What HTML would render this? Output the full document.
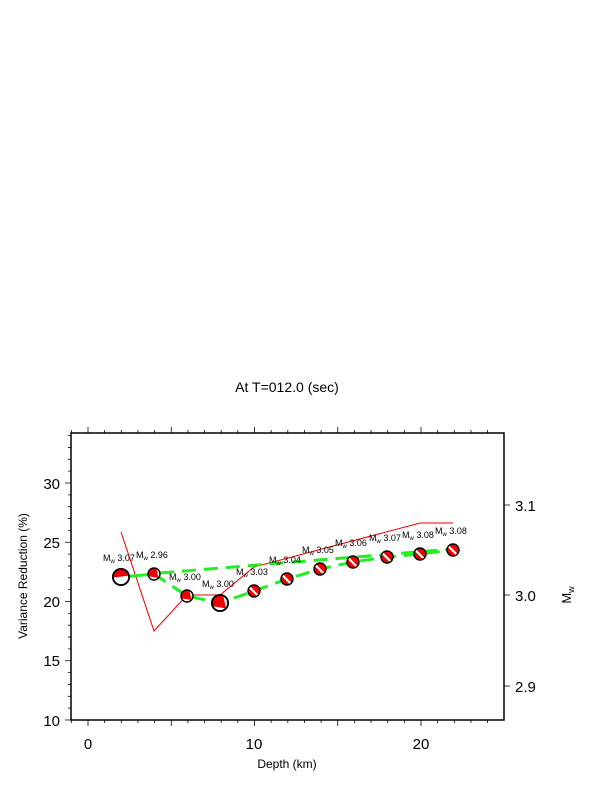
<!DOCTYPE html>
<html><head><meta charset="utf-8"><style>body{margin:0;background:#fff}svg{display:block}text{font-family:"Liberation Sans",sans-serif}</style></head><body>
<svg width="612" height="792" xmlns="http://www.w3.org/2000/svg">
<text x="287" y="392" font-size="14" text-anchor="middle">At T=012.0 (sec)</text>
<g stroke="#000" stroke-width="1.5" fill="none">
<rect x="71" y="433" width="433" height="287"/>
</g>
<g stroke="#000" stroke-width="0.8" fill="none">
<path d="M71.35 720v3M88 720v6M104.65 720v3M121.3 720v3M137.95 720v3M154.6 720v3M171.25 720v6M187.9 720v3M204.55 720v3M221.2 720v3M237.85 720v3M254.5 720v6M271.15 720v3M287.8 720v3M304.45 720v3M321.1 720v3M337.75 720v6M354.4 720v3M371.05 720v3M387.7 720v3M404.35 720v3M421 720v6M437.65 720v3M454.3 720v3M470.95 720v3M487.6 720v3"/>
<path d="M71.35 433v-3M88 433v-6M104.65 433v-3M121.3 433v-3M137.95 433v-3M154.6 433v-3M171.25 433v-6M187.9 433v-3M204.55 433v-3M221.2 433v-3M237.85 433v-3M254.5 433v-6M271.15 433v-3M287.8 433v-3M304.45 433v-3M321.1 433v-3M337.75 433v-6M354.4 433v-3M371.05 433v-3M387.7 433v-3M404.35 433v-3M421 433v-6M437.65 433v-3M454.3 433v-3M470.95 433v-3M487.6 433v-3"/>
<path d="M71 720h-6M71 708.15h-3M71 696.3h-3M71 684.45h-3M71 672.6h-3M71 660.75h-6M71 648.9h-3M71 637.05h-3M71 625.2h-3M71 613.35h-3M71 601.5h-6M71 589.65h-3M71 577.8h-3M71 565.95h-3M71 554.1h-3M71 542.25h-6M71 530.4h-3M71 518.55h-3M71 506.7h-3M71 494.85h-3M71 483h-6M71 471.15h-3M71 459.3h-3M71 447.45h-3M71 435.6h-3"/>
<path d="M504 505h6M504 595h6M504 686h6"/>
</g>
<g font-size="15">
<text x="60" y="489" text-anchor="end">30</text>
<text x="60" y="548" text-anchor="end">25</text>
<text x="60" y="607" text-anchor="end">20</text>
<text x="60" y="666" text-anchor="end">15</text>
<text x="60" y="726" text-anchor="end">10</text>
<text x="88" y="749" text-anchor="middle">0</text>
<text x="254" y="749" text-anchor="middle">10</text>
<text x="421" y="749" text-anchor="middle">20</text>
<text x="515" y="511">3.1</text>
<text x="515" y="601">3.0</text>
<text x="515" y="692">2.9</text>
</g>
<text x="287" y="768" font-size="12" text-anchor="middle">Depth (km)</text>
<text transform="translate(27,576) rotate(-90)" font-size="12" text-anchor="middle">Variance Reduction (%)</text>
<text transform="translate(571,595) rotate(-90)" font-size="13" text-anchor="middle">M<tspan font-size="9" dy="3">w</tspan></text>
<polyline points="121,532 154,631 187,595 220,595 254,567 420,523 453,523" fill="none" stroke="#e00" stroke-width="1"/>
<line x1="160" y1="573" x2="453" y2="549" stroke="#2e2" stroke-width="3" stroke-dasharray="14,8"/>
<line x1="121" y1="577" x2="154" y2="574" stroke="#2e2" stroke-width="3"/>
<polyline points="154,574 187,596 220,603 254,591 287,579 320,569 353,562 387,557 420,554 453,550" fill="none" stroke="#2e2" stroke-width="3" stroke-dasharray="14,8"/>
<defs>
<g id="bb"><circle r="6" fill="#fff"/><path d="M-5.5,2.4 A6,6 0 0 1 2.4,-5.5 L4.5,4 Z" fill="#e00"/><circle r="6" fill="none" stroke="#000" stroke-width="1.4"/></g>
<g id="bs"><circle r="6" fill="#e00"/><path d="M-4.6,-3.8 L3.8,4.6" stroke="#fff" stroke-width="2.2"/><circle r="6" fill="none" stroke="#000" stroke-width="1.4"/></g>
<g id="bh"><circle r="6" fill="#fff"/><path d="M-6,0.5 A6,6 0 0 1 5.9,-1 Z" fill="#e00"/><circle r="6" fill="none" stroke="#000" stroke-width="1.4"/></g>
</defs>
<use href="#bh" transform="translate(121,577) scale(1.35)"/>
<use href="#bb" transform="translate(154,574)"/>
<use href="#bb" transform="translate(187,596)"/>
<use href="#bb" transform="translate(220,603) scale(1.35)"/>
<use href="#bs" transform="translate(254,591)"/>
<use href="#bs" transform="translate(287,579)"/>
<use href="#bs" transform="translate(320,569)"/>
<use href="#bs" transform="translate(353,562)"/>
<use href="#bs" transform="translate(387,557)"/>
<use href="#bs" transform="translate(420,554)"/>
<use href="#bs" transform="translate(453,550)"/>
<g font-size="9">
<text x="103" y="561">M<tspan font-size="6" dy="2">w</tspan><tspan dy="-2"> 3.07</tspan></text>
<text x="136" y="558">M<tspan font-size="6" dy="2">w</tspan><tspan dy="-2"> 2.96</tspan></text>
<text x="169" y="580">M<tspan font-size="6" dy="2">w</tspan><tspan dy="-2"> 3.00</tspan></text>
<text x="202" y="587">M<tspan font-size="6" dy="2">w</tspan><tspan dy="-2"> 3.00</tspan></text>
<text x="236" y="575">M<tspan font-size="6" dy="2">w</tspan><tspan dy="-2"> 3.03</tspan></text>
<text x="269" y="563">M<tspan font-size="6" dy="2">w</tspan><tspan dy="-2"> 3.04</tspan></text>
<text x="302" y="553">M<tspan font-size="6" dy="2">w</tspan><tspan dy="-2"> 3.05</tspan></text>
<text x="335" y="546">M<tspan font-size="6" dy="2">w</tspan><tspan dy="-2"> 3.06</tspan></text>
<text x="369" y="541">M<tspan font-size="6" dy="2">w</tspan><tspan dy="-2"> 3.07</tspan></text>
<text x="402" y="538">M<tspan font-size="6" dy="2">w</tspan><tspan dy="-2"> 3.08</tspan></text>
<text x="435" y="534">M<tspan font-size="6" dy="2">w</tspan><tspan dy="-2"> 3.08</tspan></text>
</g>
</svg>
</body></html>
